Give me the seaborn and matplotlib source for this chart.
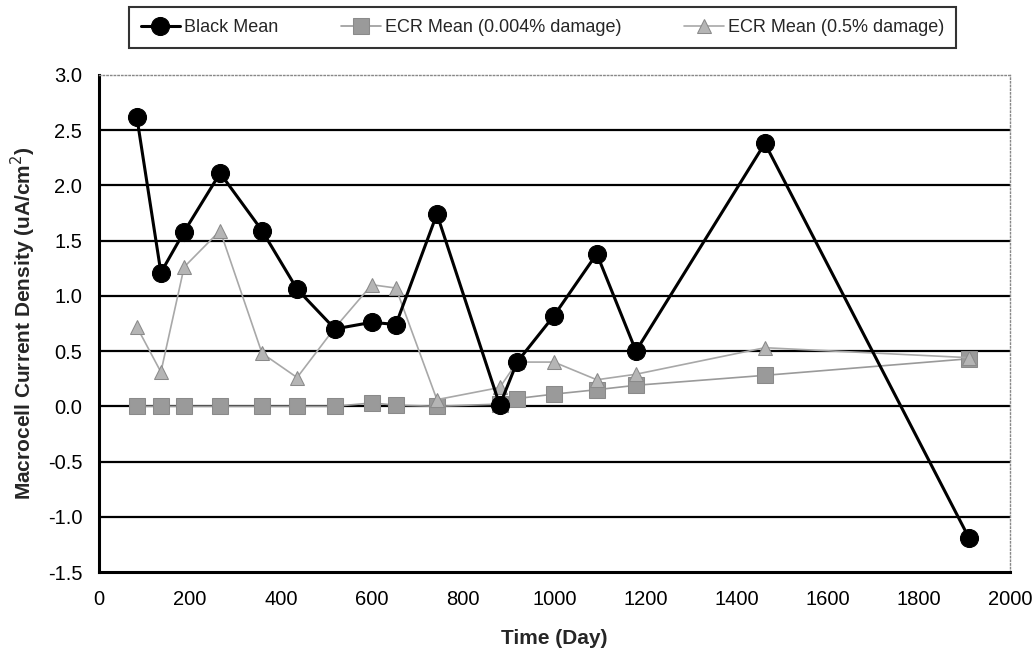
import matplotlib

matplotlib.use("Agg")
import matplotlib.pyplot as plt
import pandas as pd
import seaborn as sns

# data
days = [83, 136, 187, 266, 358, 435, 518, 599, 652, 742, 880, 918, 999, 1093, 1179, 1462, 1910]
black_mean = [2.62, 1.21, 1.58, 2.11, 1.59, 1.06, 0.70, 0.76, 0.74, 1.74, 0.01, 0.40, 0.82, 1.38, 0.50, 2.38, -1.19]
ecr_0004 = [0.0, 0.0, 0.0, 0.0, 0.0, 0.0, 0.0, 0.03, 0.01, 0.0, 0.02, 0.07, 0.11, 0.15, 0.19, 0.28, 0.43]
ecr_05 = [0.72, 0.31, 1.26, 1.59, 0.48, 0.26, 0.71, 1.10, 1.07, 0.06, 0.17, 0.40, 0.40, 0.24, 0.29, 0.53, 0.44]
series_names = ["Black Mean", "ECR Mean (0.004% damage)", "ECR Mean (0.5% damage)"]
y_ticks = [-1.5, -1.0, -0.5, 0.0, 0.5, 1.0, 1.5, 2.0, 2.5, 3.0]
x_ticks = list(range(0, 2001, 200))


def main() -> None:
    sns.set_theme(style="white")
    plt.rcParams["font.family"] = ["Liberation Sans", "DejaVu Sans"]

    df = pd.DataFrame({"Day": days})
    fig = plt.figure(figsize=(10.34, 6.56), dpi=100)
    ax = fig.add_axes([0.0957, 0.128, 0.881, 0.758])

    for yv in y_ticks[1:-1]:
        ax.axhline(yv, color="black", lw=1.6, zorder=1)

    sns.lineplot(
        data=df.assign(v=ecr_0004), x="Day", y="v", ax=ax, color="#9a9a9a", lw=1.2,
        marker="s", markersize=11, markerfacecolor="#9a9a9a", markeredgecolor="#8a8a8a",
        label=series_names[1], zorder=3,
    )
    sns.lineplot(
        data=df.assign(v=ecr_05), x="Day", y="v", ax=ax, color="#a8a8a8", lw=1.2,
        marker="^", markersize=10, markerfacecolor="#b5b5b5", markeredgecolor="#8a8a8a",
        label=series_names[2], zorder=4,
    )
    sns.lineplot(
        data=df.assign(v=black_mean), x="Day", y="v", ax=ax, color="black", lw=2.2,
        marker="o", markersize=13, markerfacecolor="black", markeredgecolor="black",
        label=series_names[0], zorder=5,
    )

    ax.set_xlim(0, 2000)
    ax.set_ylim(-1.5, 3.0)
    ax.set_xticks(x_ticks)
    ax.set_yticks(y_ticks)
    ax.set_yticklabels([f"{v:.1f}" for v in y_ticks])
    ax.tick_params(axis="both", labelsize=14.5, colors="black", width=1.2)
    ax.tick_params(axis="x", direction="inout", length=8, pad=9)
    ax.tick_params(axis="y", direction="out", length=5, pad=7)
    ax.set_xlabel("Time (Day)", fontsize=15, fontweight="bold", labelpad=14)
    ax.set_ylabel("Macrocell Current Density (uA/cm$^2$)", fontsize=15, fontweight="bold", labelpad=7)

    for side in ["left", "bottom"]:
        ax.spines[side].set_color("black")
        ax.spines[side].set_linewidth(2.2)
    for side in ["top", "right"]:
        ax.spines[side].set_color("#888888")
        ax.spines[side].set_linewidth(1.0)
        ax.spines[side].set_linestyle(":")

    handles, labels = ax.get_legend_handles_labels()
    order = [labels.index(n) for n in series_names]
    ax.get_legend().remove()
    leg = fig.legend(
        [handles[i] for i in order], [labels[i] for i in order],
        loc="center", bbox_to_anchor=(0.5245, 0.958), ncol=3, fontsize=13,
        frameon=True, fancybox=False, edgecolor="black", handlelength=2.2,
        columnspacing=3.5, borderpad=0.65, handletextpad=0.2, borderaxespad=0,
    )
    leg.get_frame().set_linewidth(1.5)

    fig.savefig("out.png", dpi=100)
    plt.close(fig)


if __name__ == "__main__":
    main()
